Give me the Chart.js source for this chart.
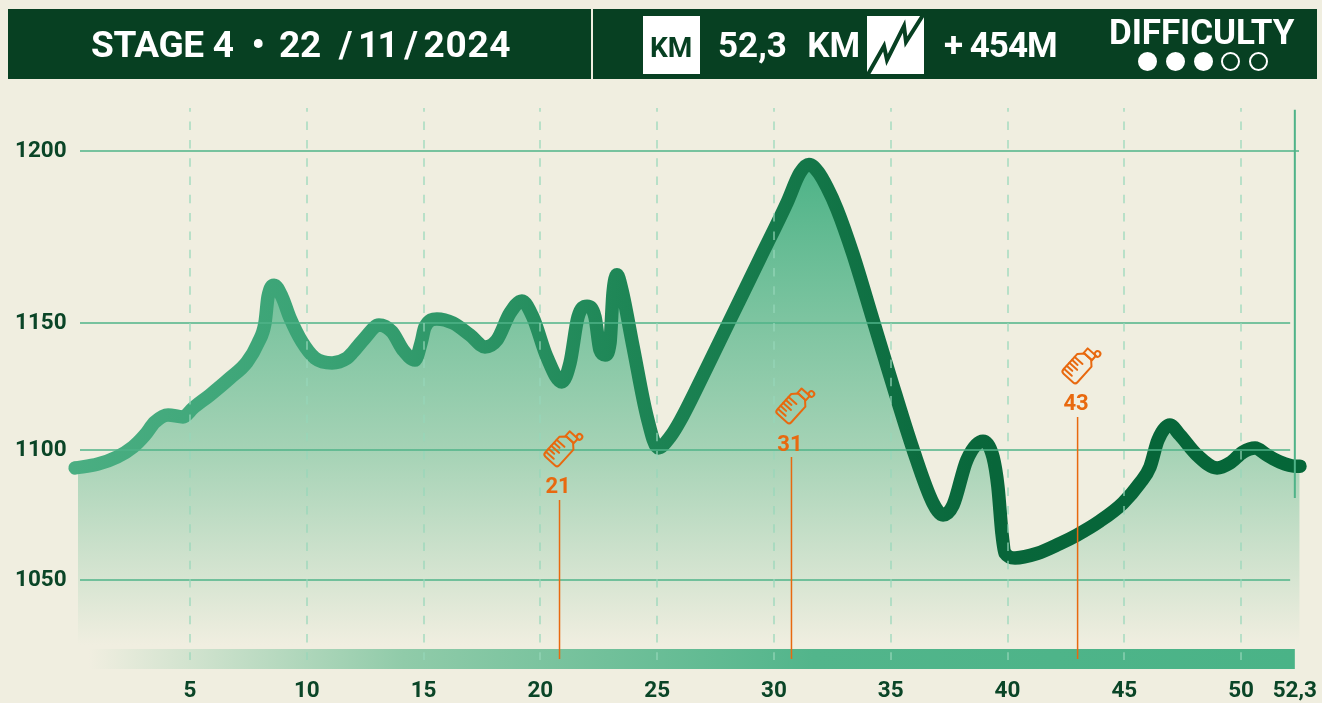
<!DOCTYPE html>
<html>
<head>
<meta charset="utf-8">
<script src="https://cdn.jsdelivr.net/npm/chart.js@4/dist/chart.umd.js"></script>
<style>
html,body{margin:0;padding:0;background:#f0eee0;width:1322px;height:703px;overflow:hidden}
#wrap{position:relative;width:1322px;height:703px}
canvas{position:absolute;left:0;top:0}
.bar{position:absolute;top:9px;height:70px;background:#074022}
.t{position:absolute;color:#fff;font-family:Roboto,sans-serif;font-weight:700;white-space:nowrap;line-height:1}
.box{position:absolute;background:#fff}
.dot{position:absolute;top:52px;width:19px;height:19px;border-radius:50%;box-sizing:border-box;border:2px solid #fff}
.dot.on{background:#fff}
</style>
</head>
<body>
<div id="wrap">
  <canvas id="c" width="1322" height="703"></canvas>
  <div class="bar" style="left:8px;width:583px"></div>
  <div class="bar" style="left:593px;width:724px"></div>
  <div class="t" style="left:91px;top:26px;font-size:37px;letter-spacing:-0.3px;white-space:pre">STAGE 4  <span style="letter-spacing:-1.4px">•  </span>22  <span style="letter-spacing:-1.8px">/ 11 / </span><span style="letter-spacing:0.7px">2024</span></div>
  <div class="box" style="left:643px;top:16px;width:57px;height:58px"></div>
  <div class="t" style="left:650px;top:34px;font-size:28px;color:#074022">KM</div>
  <div class="t" style="left:718px;top:28px;font-size:35px;white-space:pre;word-spacing:1.5px">52,3  KM</div>
  <svg class="box" style="left:867px;top:16px" width="57" height="58" viewBox="0 0 57 58"><polyline points="0,60 17,30 20,44 37,10 39,26 58,-4" fill="none" stroke="#074022" stroke-width="4"/></svg>
  <div class="t" style="left:944px;top:28px;font-size:35px;letter-spacing:-1px">+ 454M</div>
  <div class="t" style="left:1109px;top:15px;font-size:35px;letter-spacing:-0.1px">DIFFICULTY</div>
  <div class="dot on" style="left:1138px"></div>
  <div class="dot on" style="left:1166px"></div>
  <div class="dot on" style="left:1194px"></div>
  <div class="dot" style="left:1221px"></div>
  <div class="dot" style="left:1249px"></div>
</div>
<script>
const kmPoints = [0.08,1.06,1.88,2.56,3.07,3.50,4.06,4.70,5.13,5.86,6.71,7.44,7.91,8.21,8.34,8.60,8.94,9.28,9.80,10.35,11.08,11.72,11.98,12.49,13.09,13.65,14.12,14.63,14.89,15.06,15.57,16.26,16.98,17.63,18.14,18.70,19.21,19.68,20.28,20.92,21.27,21.61,22.00,22.34,22.55,22.77,22.98,23.11,23.28,23.49,23.97,24.57,25.04,25.55,25.98,27.13,28.12,29.41,30.56,31.11,31.50,31.89,32.27,32.70,33.38,34.24,34.97,35.95,36.81,37.24,37.67,38.26,38.95,39.38,39.59,39.76,39.89,40.32,41.26,42.24,42.97,43.96,44.94,45.67,46.10,46.44,46.95,47.38,48.11,48.97,49.52,50.08,50.60,51.10,51.66,52.30,52.52];
const elevation = [1093.1,1094.6,1097.3,1101.2,1105.9,1111.0,1113.8,1113.0,1116.5,1121.7,1128.3,1134.6,1142.1,1150.0,1157.6,1161.0,1157.6,1151.5,1142.5,1136.2,1134.3,1136.2,1138.6,1144.1,1149.2,1146.5,1139.4,1135.4,1142.1,1148.4,1151.2,1150.0,1145.3,1140.6,1143.3,1152.9,1156.4,1151.7,1136.6,1126.8,1134.3,1151.7,1154.9,1151.7,1139.4,1137.4,1142.1,1158.7,1164.0,1159.6,1140.6,1113.0,1100.8,1105.1,1111.4,1132.5,1150.9,1168.9,1185.0,1193.6,1196.1,1193.9,1189.5,1183.1,1170.1,1150.9,1129.1,1100.4,1079.6,1075.0,1078.8,1096.2,1103.5,1097.3,1085.8,1068.1,1060.4,1058.5,1060.2,1064.0,1067.3,1072.7,1079.6,1087.3,1093.5,1103.9,1109.8,1105.9,1098.1,1093.1,1095.0,1099.2,1100.8,1098.1,1095.4,1093.8,1093.8];
const xTickValues = [5,10,15,20,25,30,35,40,45,50,52.3];
const yTickValues = [1050,1100,1150,1200];
const gridLineEndKm = [52.1,52.1,52.1,52.48];
const gridLineStartKm = [0.29,0.29,0.29,0.29];
const aidKm = [20.82,30.75,43.0];
const aidLabels = ['21','31','43'];
const aidTopValue = [1080.8,1097.3,1113.0];
const aidBottomValue = 1019.6;
const finishKm = 52.3;
const finishTopValue = 1212;
const finishBottomValue = 1081.5;
const stripStartKm = 0.7;
const stripValue = 1019.6;
const fillFloorValue = 1025;

/* The printed elevation axis is not evenly spaced: a piecewise-linear scale. */
const axisValues = [1050,1100,1150,1200];
const axisDecimals = [0.1449,0.3804,0.6105,0.9221];
class PiecewiseScale extends Chart.LinearScale {
  static id = 'piecewise';
  static defaults = {};
  _dec(v){
    const a=axisValues,d=axisDecimals;let i=0;
    if(v>=a[a.length-1]) i=a.length-2;
    else if(v>a[0]){ while(v>a[i+1]) i++; }
    return d[i]+(v-a[i])*(d[i+1]-d[i])/(a[i+1]-a[i]);
  }
  getPixelForValue(v){ return this.getPixelForDecimal(this._dec(v)); }
}
Chart.register(PiecewiseScale);

const DARK='#0a4527', ORANGE='#e8690f', GRID='#4fb388';

function lineGrad(ctx){
  const g=ctx.chart.ctx.createLinearGradient(73,0,1300,0);
  g.addColorStop(0,'#4aae82');g.addColorStop(0.2,'#3aa375');g.addColorStop(0.45,'#1e8656');
  g.addColorStop(0.6,'#137648');g.addColorStop(0.75,'#08663a');g.addColorStop(1,'#056638');
  return g;
}
function fillGrad(ctx){
  const g=ctx.chart.ctx.createLinearGradient(0,165,0,645);
  g.addColorStop(0,'#4db387');g.addColorStop(0.6,'#a6d3b6');g.addColorStop(1,'#f0eee0');
  return g;
}
function stripGrad(ctx){
  const g=ctx.chart.ctx.createLinearGradient(90,0,1296,0);
  g.addColorStop(0,'#f0eee0');g.addColorStop(0.26,'#90cba9');g.addColorStop(0.6,'#52b58b');g.addColorStop(1,'#4ab387');
  return g;
}

const datasets=[];
datasets.push({
  data:kmPoints.map((k,i)=>({x:k,y:elevation[i]})),
  order:10,clip:false,borderWidth:13.5,borderColor:lineGrad,borderCapStyle:'round',borderJoinStyle:'round',
  cubicInterpolationMode:'monotone',pointRadius:0,
  fill:{value:fillFloorValue},backgroundColor:fillGrad
});
datasets.push({
  data:[{x:stripStartKm,y:stripValue},{x:finishKm,y:stripValue}],
  order:9,clip:false,borderWidth:20,borderColor:stripGrad,borderCapStyle:'butt',pointRadius:0,fill:false
});
yTickValues.forEach((v,i)=>datasets.push({
  data:[{x:gridLineStartKm[i],y:v},{x:gridLineEndKm[i],y:v}],
  order:5,clip:false,borderWidth:1.7,borderColor:GRID,pointRadius:0,fill:false
}));
aidKm.forEach((k,i)=>datasets.push({
  data:[{x:k,y:aidTopValue[i]},{x:k,y:aidBottomValue}],
  order:1,clip:false,borderWidth:1.5,borderColor:ORANGE,pointRadius:0,fill:false
}));
datasets.push({
  data:[{x:finishKm,y:finishTopValue},{x:finishKm,y:finishBottomValue}],
  order:2,clip:false,borderWidth:2,borderColor:GRID,pointRadius:0,fill:false
});

function bottle(c,cx,cy){
  c.save();c.translate(cx,cy);c.rotate(42*Math.PI/180);
  c.strokeStyle=ORANGE;c.lineWidth=2;c.lineJoin='round';c.lineCap='round';
  c.beginPath();
  c.moveTo(-4.5,-10);c.lineTo(-9.5,-5);c.lineTo(-9.5,16);c.quadraticCurveTo(-9.5,19,-6.5,19);
  c.lineTo(6.5,19);c.quadraticCurveTo(9.5,19,9.5,16);c.lineTo(9.5,-5);c.lineTo(4.5,-10);c.closePath();c.stroke();
  c.beginPath();c.rect(-5.5,-16,11,6);c.stroke();
  c.beginPath();c.arc(5.5,-18.5,2.8,0,Math.PI*2);c.stroke();
  for(let i=0;i<5;i++){const y=-1+i*4;c.beginPath();c.moveTo(-9.5,y);c.lineTo(i%2?-2:1,y);c.stroke();}
  c.restore();
}

const aidPlugin={
  id:'aid',
  afterDatasetsDraw(chart){
    const c=chart.ctx,x=chart.scales.x,y=chart.scales.y;
    aidKm.forEach((k,i)=>{
      const px=x.getPixelForValue(k),py=y.getPixelForValue(aidTopValue[i]);
      bottle(c,px+3.5,py-53);
      c.save();c.fillStyle=ORANGE;c.font='700 22px Roboto, sans-serif';c.textAlign='center';c.textBaseline='middle';
      c.fillText(aidLabels[i],px-1.5,py-12);c.restore();
    });
  }
};

new Chart(document.getElementById('c'),{
  type:'line',
  data:{datasets},
  plugins:[aidPlugin],
  options:{
    responsive:false,animation:false,devicePixelRatio:1,
    layout:{autoPadding:false,padding:{left:15,top:108,right:22.5,bottom:0}},
    plugins:{legend:{display:false},tooltip:{enabled:false},title:{display:false}},
    scales:{
      x:{
        type:'linear',min:0.205,max:52.5,position:'bottom',
        afterBuildTicks(s){s.ticks=xTickValues.map(value=>({value}));},
        afterFit(s){s.height=43;s.paddingLeft=0;s.paddingRight=0;},
        grid:{z:1,drawTicks:false,lineWidth:2,
          color:c=>c.tick&&c.tick.value===52.3?'rgba(0,0,0,0)':'rgba(150,215,185,0.62)'},
        border:{display:false,dash:[8.5,9.8],dashOffset:4.7},
        ticks:{autoSkip:false,maxRotation:0,padding:18,color:DARK,font:{family:'Roboto',weight:'700',size:22.5},
          callback:v=>v===52.3?'52,3':String(v)}
      },
      y:{
        type:'piecewise',min:1000,max:1220,position:'left',
        afterBuildTicks(s){s.ticks=yTickValues.map(value=>({value}));},
        afterFit(s){s.width=63;s.paddingTop=0;s.paddingBottom=0;},
        grid:{display:false},border:{display:false},
        ticks:{crossAlign:'far',padding:0,color:DARK,font:{family:'Roboto',weight:'700',size:22.5},callback:v=>String(v)}
      }
    }
  }
});
</script>
</body>
</html>
